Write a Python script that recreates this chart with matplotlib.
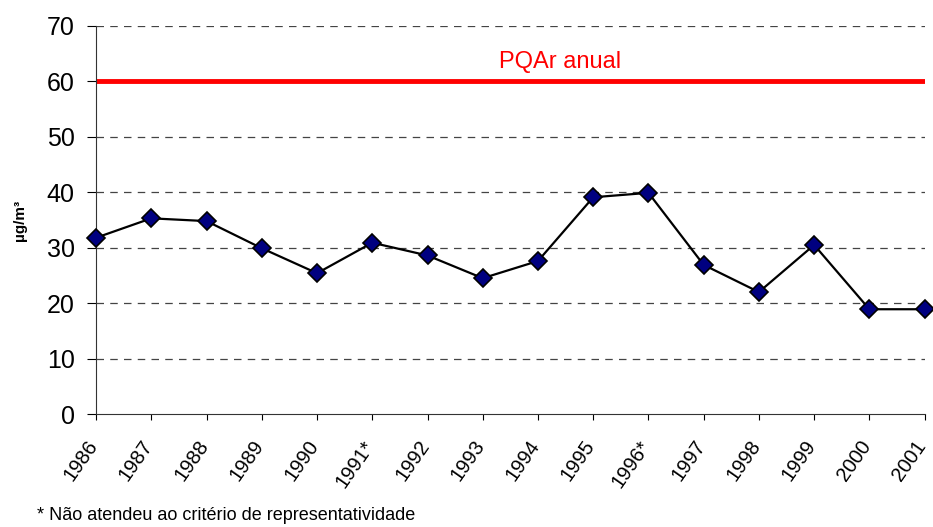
import matplotlib
matplotlib.use("Agg")
import matplotlib.pyplot as plt
import matplotlib.transforms as mtransforms

plt.rcParams["font.family"] = ["Liberation Sans", "DejaVu Sans"]

# Data
years = ["1986", "1987", "1988", "1989", "1990", "1991*", "1992", "1993",
         "1994", "1995", "1996*", "1997", "1998", "1999", "2000", "2001"]
values = [31.8, 35.3, 34.8, 29.9, 25.4, 30.9, 28.6, 24.5,
          27.6, 39.1, 39.9, 26.9, 22.0, 30.5, 18.9, 18.9]
limit_value = 60
limit_label = "PQAr anual"
y_ticks = [0, 10, 20, 30, 40, 50, 60, 70]

fig = plt.figure(figsize=(9.33, 5.27), dpi=100)
ax = fig.add_axes([0.103, 0.2144, 0.888, 0.7363])

x = list(range(len(years)))

# Grid lines
for t in y_ticks[1:]:
    if t == limit_value:
        continue
    ax.axhline(t, color="#444444", linestyle=(0, (6, 5)), linewidth=0.9, zorder=1)

# Annual standard
ax.axhline(limit_value, color="#ff0000", linewidth=3.5, zorder=2)
ax.text(7.3, 63.5, limit_label, color="#ff0000", fontsize=17,
        ha="left", va="center")

# Series
ax.plot(x, values, color="black", linewidth=1.6, marker="D",
        markersize=9, markerfacecolor="#000080", markeredgecolor="black",
        markeredgewidth=1.2, zorder=3, clip_on=False)

ax.set_xlim(0, len(years) - 1)
ax.set_ylim(0, 70)
ax.set_yticks(y_ticks)
ax.set_xticks(x)
ax.set_xticklabels(years, rotation=55, ha="right", rotation_mode="anchor",
                   fontsize=14.5)
ax.tick_params(axis="y", labelsize=18, direction="out", length=6.5, width=0.8,
               pad=9)
ax.tick_params(axis="x", direction="out", length=4.5, width=0.8, pad=12)

# nudge the rotated year labels to the left, like the original
shift = mtransforms.ScaledTranslation(-10 / 100, 0, fig.dpi_scale_trans)
for lbl in ax.get_xticklabels():
    lbl.set_transform(lbl.get_transform() + shift)

for side in ["top", "right"]:
    ax.spines[side].set_visible(False)
ax.spines["left"].set_color("#333333")
ax.spines["bottom"].set_color("#333333")
ax.spines["left"].set_linewidth(0.8)
ax.spines["bottom"].set_linewidth(0.8)

ax.set_ylabel("µg/m³", fontsize=11, fontweight="bold", labelpad=14)

fig.text(0.04, 0.005, "* Não atendeu ao critério de representatividade",
         fontsize=13, ha="left", va="bottom")

fig.savefig("out.png", dpi=100)
